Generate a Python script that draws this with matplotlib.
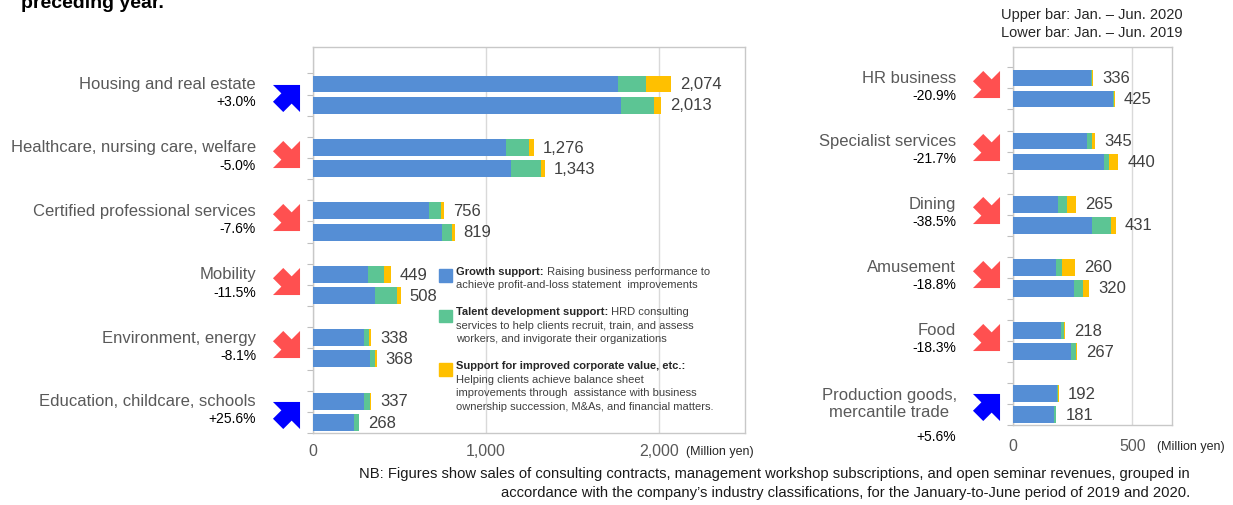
import matplotlib
matplotlib.use("Agg")
import matplotlib.pyplot as plt
import numpy as np
from matplotlib.path import Path
from matplotlib.patches import Rectangle
from matplotlib.transforms import blended_transform_factory, offset_copy

plt.rcParams['font.family'] = ['Liberation Sans', 'DejaVu Sans']

# ---- data (top group first) ----
left_sectors = ["Housing and real estate", "Healthcare, nursing care, welfare",
                "Certified professional services", "Mobility",
                "Environment, energy", "Education, childcare, schools"]
left_change = ["+3.0%", "-5.0%", "-7.6%", "-11.5%", "-8.1%", "+25.6%"]
left_growth_2020 = [1762, 1116, 669, 318, 294, 296]
left_talent_2020 = [165, 136, 73, 91, 27, 33]
left_value_2020 = [147, 24, 14, 40, 17, 8]
left_growth_2019 = [1782, 1143, 744, 358, 329, 238]
left_talent_2019 = [188, 176, 62, 130, 29, 29]
left_value_2019 = [43, 24, 13, 20, 10, 1]
left_total_2020 = [2074, 1276, 756, 449, 338, 337]
left_total_2019 = [2013, 1343, 819, 508, 368, 268]

right_sectors = ["HR business", "Specialist services", "Dining", "Amusement",
                 "Food", "Production goods,\nmercantile trade"]
right_change = ["-20.9%", "-21.7%", "-38.5%", "-18.8%", "-18.3%", "+5.6%"]
right_growth_2020 = [327, 308, 188, 180, 199, 184]
right_talent_2020 = [5, 23, 36, 24, 13, 4]
right_value_2020 = [4, 14, 41, 56, 6, 4]
right_growth_2019 = [420, 380, 331, 257, 242, 172]
right_talent_2019 = [4, 20, 78, 38, 22, 7]
right_value_2019 = [1, 40, 22, 25, 3, 2]
right_total_2020 = [336, 345, 265, 260, 218, 192]
right_total_2019 = [425, 440, 431, 320, 267, 181]

BLUE = "#558ed5"
GREEN = "#5cc594"
YELLOW = "#ffc000"
UP_COL = "#0000ff"
DOWN_COL = "#ff5050"
GRAY = "#595959"

legend_items = [
    (BLUE, "Growth support:", " Raising business performance to",
     ["achieve profit-and-loss statement  improvements"]),
    (GREEN, "Talent development support:", " HRD consulting",
     ["services to help clients recruit, train, and assess",
      "workers, and invigorate their organizations"]),
    (YELLOW, "Support for improved corporate value, etc.:", "",
     ["Helping clients achieve balance sheet",
      "improvements through  assistance with business",
      "ownership succession, M&As, and financial matters."]),
]


def arrow_path(up):
    # block arrow pointing right, then turned 45 degrees up or down
    pts = np.array([[1, 0], [0, 1], [0, 0.38], [-0.62, 0.38], [-0.62, -0.38],
                    [0, -0.38], [0, -1], [1, 0]], dtype=float)
    a = np.deg2rad(45 if up else -45)
    rot = np.array([[np.cos(a), -np.sin(a)], [np.sin(a), np.cos(a)]])
    return Path(pts @ rot.T, closed=True)


def draw_panel(ax, sectors, change, g20, t20, v20, g19, t19, v19, tot20, tot19,
               xmax, ytop, label_x, arrow_x, tick_pad):
    n = len(sectors)
    lower = np.array([3 * (n - 1 - i) for i in range(n)], dtype=float)
    upper = lower + 1
    centers = lower + 0.5
    for y, g, t, v in ((upper, g20, t20, v20), (lower, g19, t19, v19)):
        g = np.array(g); t = np.array(t); v = np.array(v)
        ax.barh(y, g, height=0.8, color=BLUE, zorder=3)
        ax.barh(y, t, left=g, height=0.8, color=GREEN, zorder=3)
        ax.barh(y, v, left=g + t, height=0.8, color=YELLOW, zorder=3)
    for y, tot in ((upper, tot20), (lower, tot19)):
        for yy, val in zip(y, tot):
            ax.annotate(f"{val:,}", (val, yy), xytext=(6.5, -0.5),
                        textcoords="offset points", va="center", ha="left",
                        fontsize=12, color="#404040")
    trans = blended_transform_factory(ax.transAxes, ax.transData)
    for c, name, pct in zip(centers, sectors, change):
        if "\n" in name:
            ax.text(label_x + 0.005, c, name, transform=trans, ha="right",
                    va="center", fontsize=12, color=GRAY, linespacing=1.15,
                    multialignment="center")
            ax.text(label_x, c - 1.55, pct, transform=trans, ha="right",
                    va="center", fontsize=10, color="black")
        else:
            ax.text(label_x, c + 0.48, name, transform=trans, ha="right",
                    va="center", fontsize=12, color=GRAY)
            ax.text(label_x, c - 0.36, pct, transform=trans, ha="right",
                    va="center", fontsize=10, color="black")
        up = pct.startswith("+")
        ax.scatter([arrow_x], [c + (-0.14 if up else 0.2)], transform=trans,
                   marker=arrow_path(up), s=380, linewidths=0,
                   color=UP_COL if up else DOWN_COL, clip_on=False, zorder=5)
    ax.set_xlim(0, xmax)
    ax.set_ylim(-0.5, ytop)
    ax.set_yticks(np.arange(-0.5, 17, 1))
    ax.set_yticklabels([])
    ax.tick_params(axis="y", length=4, color="#bfbfbf", direction="out")
    ax.tick_params(axis="x", length=0, labelsize=11.5, labelcolor=GRAY,
                   pad=tick_pad)
    ax.xaxis.set_major_formatter(matplotlib.ticker.FuncFormatter(
        lambda v, p: f"{int(v):,}"))
    ax.set_axisbelow(True)
    ax.grid(axis="x", color="#d9d9d9", linewidth=1)
    for sp in ax.spines.values():
        sp.set_color("#c8c8c8")
        sp.set_linewidth(1)


fig = plt.figure(figsize=(12.33, 5.05), dpi=100)
ax_l = fig.add_axes([0.2539, 0.1426, 0.3504, 0.7644])
ax_r = fig.add_axes([0.8216, 0.1584, 0.1290, 0.7485])

draw_panel(ax_l, left_sectors, left_change, left_growth_2020, left_talent_2020,
           left_value_2020, left_growth_2019, left_talent_2019, left_value_2019,
           left_total_2020, left_total_2019, 2500, 17.75, -0.132, -0.0625, 8)
ax_l.set_xticks([0, 1000, 2000])
draw_panel(ax_r, right_sectors, right_change, right_growth_2020,
           right_talent_2020, right_value_2020, right_growth_2019,
           right_talent_2019, right_value_2019, right_total_2020,
           right_total_2019, 666, 17.47, -0.358, -0.173, 10)
ax_r.set_xticks([0, 500])

# legend written inside the left panel
step = 9.7
tx, ty = 0.331, 0.417
row = 0
for col, head, rest, lines in legend_items:
    base = offset_copy(ax_l.transAxes, fig=fig, x=0, y=-row * step, units="points")
    sq = offset_copy(ax_l.transAxes, fig=fig, x=0, y=-row * step - 2.5,
                     units="points")
    ax_l.add_patch(Rectangle((tx - 0.0395, ty - 0.0165), 0.029, 0.033,
                             transform=sq, color=col, clip_on=False, zorder=4))
    h = ax_l.text(tx, ty, head, transform=base, fontsize=8,
                  fontweight="bold", color="#262626", va="center", ha="left",
                  zorder=4)
    if rest:
        ax_l.annotate(rest, xy=(1, 0), xycoords=h, va="bottom", ha="left",
                      fontsize=8, color="#404040", zorder=4)
    row += 1
    for ln in lines:
        ax_l.text(tx, ty, ln,
                  transform=offset_copy(ax_l.transAxes, fig=fig, x=0,
                                        y=-row * step, units="points"),
                  fontsize=8, color="#404040", va="center", ha="left", zorder=4)
        row += 1
    row += 1

fig.text(686 / 1233, 1 - 452 / 505, "(Million yen)", fontsize=9, color="#262626",
         va="center", ha="left")
fig.text(1157 / 1233, 1 - 447 / 505, "(Million yen)", fontsize=9, color="#262626",
         va="center", ha="left")

fig.text(1001 / 1233, 1 - 15 / 505, "Upper bar: Jan. \u2013 Jun. 2020",
         fontsize=10.5, color="#262626", va="center", ha="left")
fig.text(1001 / 1233, 1 - 33 / 505, "Lower bar: Jan. \u2013 Jun. 2019",
         fontsize=10.5, color="#262626", va="center", ha="left")

fig.text(21 / 1233, 1 - 8 / 505, "preceding year.", fontsize=14,
         fontweight="bold", color="black", va="baseline", ha="left")

fig.text(1190 / 1233, 1 - 474 / 505,
         "NB: Figures show sales of consulting contracts, management workshop "
         "subscriptions, and open seminar revenues, grouped in",
         fontsize=10.6, color="#1a1a1a", va="center", ha="right")
fig.text(1190 / 1233, 1 - 493 / 505,
         "accordance with the company\u2019s industry classifications, for the "
         "January-to-June period of 2019 and 2020.",
         fontsize=10.6, color="#1a1a1a", va="center", ha="right")

fig.savefig("out.png", dpi=100)
